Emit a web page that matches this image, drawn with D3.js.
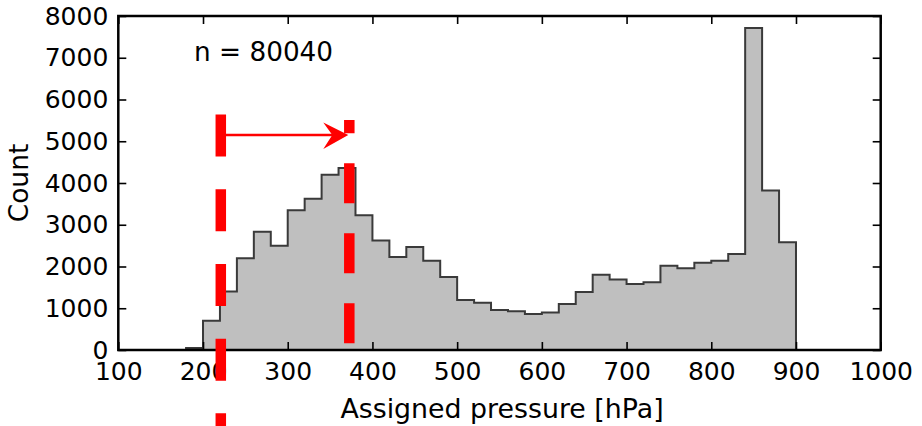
<!DOCTYPE html>
<html><head><meta charset="utf-8">
<script src="https://cdn.jsdelivr.net/npm/d3@7"></script>
<style>html,body{margin:0;padding:0;background:#fff;} svg{display:block;}</style>
</head><body>
<script>
// ---- data ----
const binStart = 180;
const binWidth = 20;
const counts = [50, 700, 1400, 2200, 2830, 2500, 3350, 3620, 4200, 4360,
  3230, 2620, 2230, 2470, 2140, 1750, 1200, 1130, 960, 930,
  860, 900, 1100, 1390, 1800, 1690, 1580, 1620, 2020, 1960,
  2090, 2140, 2300, 7710, 3820, 2580];
const xTicks = [100, 200, 300, 400, 500, 600, 700, 800, 900, 1000];
const yTicks = [0, 1000, 2000, 3000, 4000, 5000, 6000, 7000, 8000];
const nLabel = "n = 80040";
const xLabel = "Assigned pressure [hPa]";
const yLabel = "Count";
// annotation (data coords): dashed lines [x, yTop, yBottom], arrow [x0, x1, y]
const markerLines = [[221, 5640, -1900], [372.7, 5510, 150]];
const arrowSpec = [227, 371.5, 5150];

// ---- layout ----
const W = 922, H = 426;
const svg = d3.select("body").append("svg").attr("width", W).attr("height", H);
const x = d3.scaleLinear().domain([100, 1000]).range([118.3, 880.7]);
const y = d3.scaleLinear().domain([0, 8000]).range([350, 16]);
const font = "DejaVu Sans, sans-serif";

// histogram step polygon
const pts = [[binStart, 0]];
counts.forEach((c, i) => {
  const x0 = binStart + i * binWidth;
  pts.push([x0, c], [x0 + binWidth, c]);
});
pts.push([binStart + counts.length * binWidth, 0]);
svg.append("path")
  .attr("d", d3.line().x(d => x(d[0])).y(d => y(d[1]))(pts) + "Z")
  .attr("fill", "#bfbfbf")
  .attr("stroke", "#3a3a3a")
  .attr("stroke-width", 2)
  .attr("stroke-linejoin", "miter");

// axes (ticks inward on all sides)
const tl = 8;
const gx = svg.append("g").attr("transform", `translate(0,${y(0)})`)
  .call(d3.axisBottom(x).tickValues(xTicks).tickSize(-tl).tickPadding(12).tickFormat(d3.format("d")));
const gxt = svg.append("g").attr("transform", `translate(0,${y(8000)})`)
  .call(d3.axisTop(x).tickValues(xTicks).tickSize(-tl).tickFormat(""));
const gy = svg.append("g").attr("transform", `translate(${x(100)},0)`)
  .call(d3.axisLeft(y).tickValues(yTicks).tickSize(-tl).tickPadding(10).tickFormat(d3.format("d")));
const gyr = svg.append("g").attr("transform", `translate(${x(1000)},0)`)
  .call(d3.axisRight(y).tickValues(yTicks).tickSize(-tl).tickFormat(""));
[gx, gxt, gy, gyr].forEach(g => {
  g.select(".domain").remove();
  g.selectAll(".tick line").attr("stroke", "#000").attr("stroke-width", 1.6);
  g.selectAll(".tick text").attr("fill", "#000").style("font-family", font).style("font-size", "25px");
});
// frame
svg.append("rect")
  .attr("x", x(100)).attr("y", y(8000))
  .attr("width", x(1000) - x(100)).attr("height", y(0) - y(8000))
  .attr("fill", "none").attr("stroke", "#000").attr("stroke-width", 2.5);

// labels
svg.append("text").attr("x", 502).attr("y", 418).attr("text-anchor", "middle")
  .style("font-family", font).style("font-size", "26.8px").text(xLabel);
svg.append("text").attr("transform", `translate(28,${(y(0) + y(8000)) / 2}) rotate(-90)`)
  .attr("text-anchor", "middle")
  .style("font-family", font).style("font-size", "26.5px").text(yLabel);
svg.append("text").attr("x", 194).attr("y", 61)
  .style("font-family", font).style("font-size", "26.3px").text(nLabel);

// red annotations
const dashes = [["42,32.7", 0], ["40,30", 26.7]];
markerLines.forEach((m, i) => {
  svg.append("line")
    .attr("x1", x(m[0])).attr("x2", x(m[0]))
    .attr("y1", y(m[1])).attr("y2", y(m[2]))
    .attr("stroke", "#ff0000").attr("stroke-width", 10.5)
    .attr("stroke-dasharray", dashes[i][0]).attr("stroke-dashoffset", dashes[i][1]);
});
const ax0 = x(arrowSpec[0]), ax1 = x(arrowSpec[1]), ay = y(arrowSpec[2]);
svg.append("line").attr("x1", ax0).attr("x2", ax1 - 6).attr("y1", ay).attr("y2", ay)
  .attr("stroke", "#ff0000").attr("stroke-width", 2.5);
svg.append("path")
  .attr("d", `M${ax1},${ay} L${ax1 - 25},${ay - 12.5} L${ax1 - 16},${ay} L${ax1 - 25},${ay + 14} Z`)
  .attr("fill", "#ff0000");
</script>
</body></html>
